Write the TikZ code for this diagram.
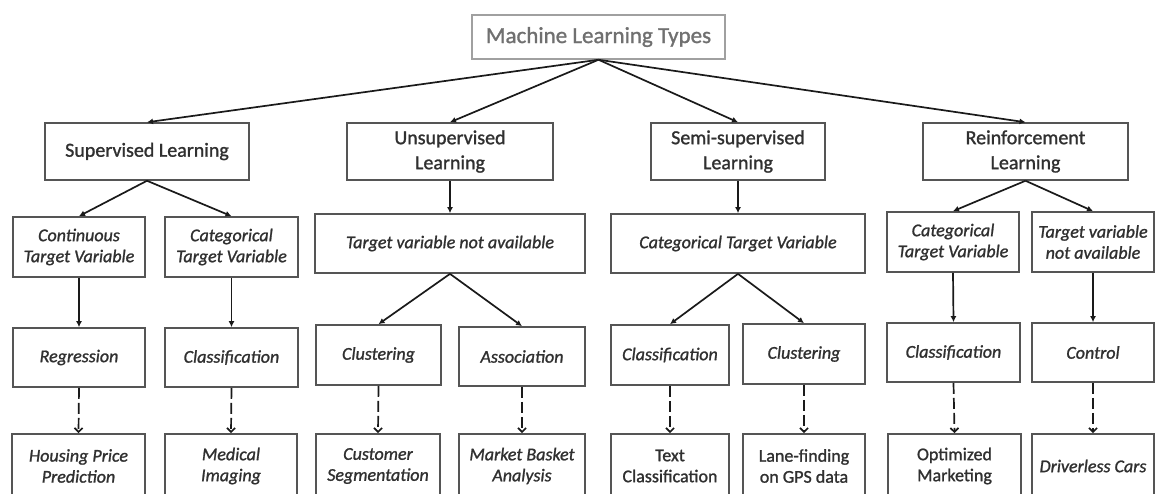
\documentclass[tikz,border=0pt]{standalone}
\usepackage{fontspec}
\setmainfont{Carlito}[FakeBold=1.2]
\usetikzlibrary{arrows.meta}
\definecolor{boxline}{HTML}{555555}
\definecolor{boxtext}{HTML}{303030}
\definecolor{rootline}{HTML}{A0A0A0}
\definecolor{roottext}{HTML}{707070}
\definecolor{arrowline}{HTML}{1A1A1A}
\begin{document}
\begin{tikzpicture}[x=1pt,y=-1pt,
  box/.style={draw=boxline, line width=1.7pt, text=boxtext, align=center, inner sep=0pt,
    font=\fontsize{18}{21}\selectfont\itshape},
  lvlone/.style={box, line width=1.5pt, font=\fontsize{20}{25}\selectfont},
  rootbox/.style={box, draw=rootline, text=roottext, line width=1.5pt, font=\fontsize{23}{27}\selectfont},
  upright/.style={font=\fontsize{18}{21}\selectfont},
  solidarrow/.style={draw=arrowline, line width=1.7pt, -{Latex[length=6pt,width=6pt]}},
  dasharrow/.style={draw=arrowline, line width=1.7pt, dash pattern=on 11pt off 4pt,
    -{Straight Barb[length=4pt,width=8pt]}},
]
\useasboundingbox (0,0) rectangle (1155,493);
\fill[white] (0,0) rectangle (1155,493);
\clip (0,0) rectangle (1155,493);

% root
\node[rootbox, minimum width=253pt, minimum height=44pt] (root) at (598.5,37) {Machine Learning Types};

% level 1
\node[lvlone, minimum width=204pt, minimum height=57pt] (sup) at (147,151.5) {Supervised Learning};
\node[lvlone, minimum width=206pt, minimum height=57pt] (uns) at (450,151.5) {Unsupervised\\Learning};
\node[lvlone, minimum width=174pt, minimum height=57pt] (semi) at (738,151.5) {Semi-supervised\\Learning};
\node[lvlone, minimum width=205pt, minimum height=57pt] (rein) at (1025.5,151.5) {Reinforcement\\Learning};

% level 2
\node[box, minimum width=132pt, minimum height=60pt] (cont) at (79,247) {Continuous\\Target Variable};
\node[box, minimum width=133pt, minimum height=60pt] (cats) at (231.5,247) {Categorical\\Target Variable};
\node[box, minimum width=270pt, minimum height=59pt] (tvna) at (450,243.5) {Target variable not available};
\node[box, minimum width=254pt, minimum height=59pt] (catss) at (738,243.5) {Categorical Target Variable};
\node[box, minimum width=132pt, minimum height=60pt] (catr) at (953,242) {Categorical\\Target Variable};
\node[box, minimum width=122pt, minimum height=60pt] (tvnar) at (1093,242) {Target variable\\not available};

% level 3
\node[box, minimum width=132pt, minimum height=59pt] (regr) at (79,357.5) {Regression};
\node[box, minimum width=133pt, minimum height=59pt] (classs) at (231.5,357.5) {Classification};
\node[box, minimum width=125pt, minimum height=60pt] (clus) at (378.5,355) {Clustering};
\node[box, minimum width=126pt, minimum height=59pt] (assoc) at (522,356.5) {Association};
\node[box, minimum width=118pt, minimum height=60pt] (classss) at (670,355) {Classification};
\node[box, minimum width=122pt, minimum height=60pt] (clusss) at (804,354) {Clustering};
\node[box, minimum width=133pt, minimum height=59pt] (classr) at (953.5,352.5) {Classification};
\node[box, minimum width=122pt, minimum height=59pt] (control) at (1093,352.5) {Control};

% level 4
\node[box, minimum width=133pt, minimum height=64pt] (housing) at (78.5,466) {Housing Price\\Prediction};
\node[box, minimum width=132pt, minimum height=64pt] (medical) at (231,466) {Medical\\Imaging};
\node[box, minimum width=124pt, minimum height=64pt] (customer) at (378,466) {Customer\\Segmentation};
\node[box, minimum width=126pt, minimum height=64pt] (market) at (522,466) {Market Basket\\Analysis};
\node[box, upright, minimum width=118pt, minimum height=64pt] (textc) at (670,466) {Text\\Classification};
\node[box, upright, minimum width=122pt, minimum height=64pt] (lane) at (804,466) {Lane-finding\\on GPS data};
\node[box, upright, minimum width=133pt, minimum height=64pt] (optim) at (954.5,466) {Optimized\\Marketing};
\node[box, minimum width=122pt, minimum height=64pt] (driver) at (1093,466) {Driverless Cars};

% root connectors
\draw[solidarrow] (root.south) -- (sup.north);
\draw[solidarrow] (root.south) -- (uns.north);
\draw[solidarrow] (root.south) -- (semi.north);
\draw[solidarrow] (root.south) -- (rein.north);

% level 1 -> 2
\draw[solidarrow] (sup.south) -- (cont.north);
\draw[solidarrow] (sup.south) -- (cats.north);
\draw[solidarrow] (uns.south) -- (tvna.north);
\draw[solidarrow] (semi.south) -- (catss.north);
\draw[solidarrow] (rein.south) -- (catr.north);
\draw[solidarrow] (rein.south) -- (tvnar.north);

% level 2 -> 3
\draw[solidarrow] (cont.south) -- (regr.north);
\draw[solidarrow] (cats.south) -- (classs.north);
\draw[solidarrow] (tvna.south) -- (clus.north);
\draw[solidarrow] (tvna.south) -- (assoc.north);
\draw[solidarrow] (catss.south) -- (classss.north);
\draw[solidarrow] (catss.south) -- (clusss.north);
\draw[solidarrow] (catr.south) -- (classr.north);
\draw[solidarrow] (tvnar.south) -- (control.north);

% level 3 -> 4
\draw[dasharrow] (regr.south) -- (housing.north);
\draw[dasharrow] (classs.south) -- (medical.north);
\draw[dasharrow] (clus.south) -- (customer.north);
\draw[dasharrow] (assoc.south) -- (market.north);
\draw[dasharrow] (classss.south) -- (textc.north);
\draw[dasharrow] (clusss.south) -- (lane.north);
\draw[dasharrow] (classr.south) -- (optim.north);
\draw[dasharrow] (control.south) -- (driver.north);
\end{tikzpicture}
\end{document}
